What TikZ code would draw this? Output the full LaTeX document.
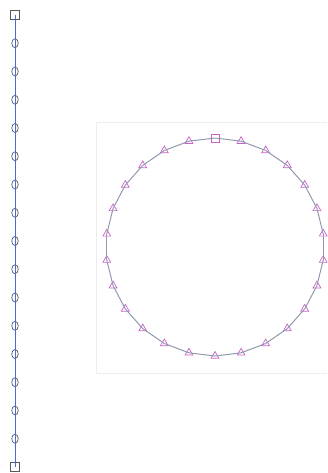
\documentclass[tikz,border=0pt]{standalone}
\usetikzlibrary{shapes.geometric}
\begin{document}
\begin{tikzpicture}[x=1pt,y=-1pt,
  chainsq/.style={draw=black!65, rectangle, minimum size=9pt, inner sep=0pt, line width=0.7pt},
  chaincirc/.style={draw=black!65, ellipse, minimum width=6.5pt, minimum height=9pt, inner sep=0pt, line width=0.7pt},
  ringsq/.style={draw=ringmark, rectangle, minimum size=8pt, inner sep=0pt, line width=0.7pt},
  ringtri/.style={draw=ringmark, regular polygon, regular polygon sides=3, minimum size=9pt, inner sep=0pt, line width=0.7pt}]
\definecolor{chainline}{HTML}{4A6AD8}
\definecolor{ringline}{HTML}{8F9BAD}
\definecolor{ringmark}{HTML}{CC5FCC}
\useasboundingbox (0,0) rectangle (327,473);
\draw[black!7] (327,122) -- (96,122) -- (96,373) -- (327,373);
% vertical chain
\node[chainsq] (c0) at (15,15) {};
\foreach \k in {1,...,15}
  \node[chaincirc] (c\k) at (15,{15+\k*28.25}) {};
\node[chainsq] (c16) at (15,467) {};
\foreach \k [remember=\k as \j (initially 0)] in {1,...,16}
  \draw[chainline, line width=1pt] (c\j.center) -- (c\k.center);
% ring
\node[ringsq] (r0) at (215,138) {};
\foreach \k in {1,...,25}
  \node[ringtri] (r\k) at ({215+109*cos(90-\k*360/26)},{247-109*sin(90-\k*360/26)}) {};
\foreach \k [remember=\k as \j (initially 0)] in {1,...,25}
  \draw[ringline, line width=1pt] (r\j.center) -- (r\k.center);
\draw[ringline, line width=1pt] (r25.center) -- (r0.center);
\end{tikzpicture}
\end{document}
